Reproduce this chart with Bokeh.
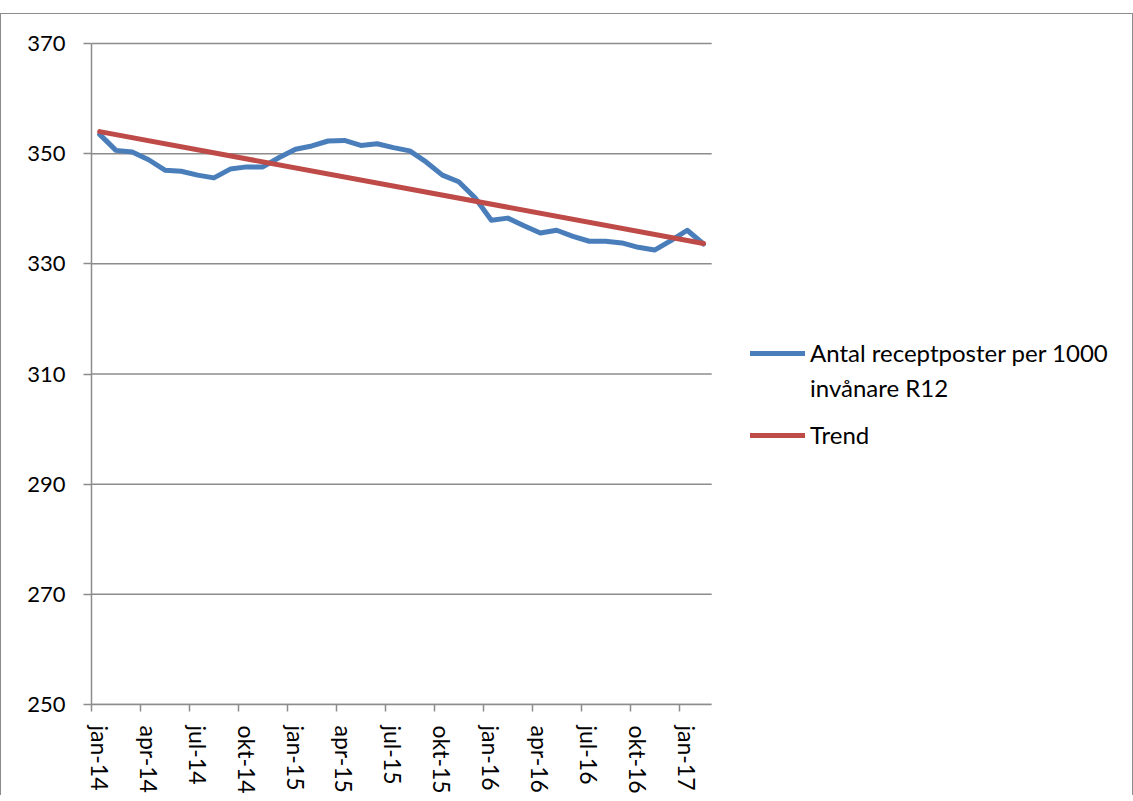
from bokeh.plotting import figure
from bokeh.models import FixedTicker, Legend, LegendItem, Range1d, Spacer
from bokeh.layouts import column
from bokeh.embed import file_html
from bokeh.resources import INLINE

# ---- data -------------------------------------------------------------
months = ["jan-14", "feb-14", "mar-14", "apr-14", "maj-14", "jun-14", "jul-14", "aug-14",
          "sep-14", "okt-14", "nov-14", "dec-14", "jan-15", "feb-15", "mar-15", "apr-15",
          "maj-15", "jun-15", "jul-15", "aug-15", "sep-15", "okt-15", "nov-15", "dec-15",
          "jan-16", "feb-16", "mar-16", "apr-16", "maj-16", "jun-16", "jul-16", "aug-16",
          "sep-16", "okt-16", "nov-16", "dec-16", "jan-17", "feb-17"]
receptposter = [353.5, 350.6, 350.3, 348.9, 347.0, 346.8, 346.1, 345.6,
                347.2, 347.6, 347.6, 349.3, 350.8, 351.4, 352.3, 352.4,
                351.5, 351.8, 351.1, 350.5, 348.5, 346.1, 344.9, 342.0,
                337.9, 338.3, 336.9, 335.6, 336.1, 335.0, 334.1, 334.1,
                333.8, 333.0, 332.5, 334.2, 336.1, 333.6]
trend_idx = [0, 37]
trend_vals = [354.0, 333.7]
y_ticks = [250, 270, 290, 310, 330, 350, 370]
series_line1 = "Antal receptposter per 1000"
series_line2 = "invånare R12"
trend_name = "Trend"

FONT = "Lato"
GRAY = "#8c8c8c"
BLUE = "#4a7ebb"
RED = "#be4b48"

# ---- layout (pixels) --------------------------------------------------
AX_W = 619          # width of the data area (38 categories)
AX_H = 660          # height of the data area (250..370)
LEFT = 90
TOP = 26
BOTTOM = 81
FRAME_W = 1131 - LEFT   # frame runs on to the right edge (legend lives there)
TOP_PAD_PX = 3
FRAME_H = AX_H + TOP_PAD_PX

n = len(months)
x_idx = list(range(n))
label_idx = x_idx[::3]
x0, x1 = -0.5, n - 0.5
x_end = x0 + FRAME_W * (x1 - x0) / AX_W
y0, y1 = y_ticks[0], y_ticks[-1]
y_end = y1 + TOP_PAD_PX * (y1 - y0) / AX_H

p = figure(frame_width=FRAME_W, frame_height=FRAME_H, output_backend="svg", toolbar_location=None,
           x_range=Range1d(x0, x_end), y_range=Range1d(y0, y_end),
           min_border_left=LEFT, min_border_top=TOP, min_border_right=0, min_border_bottom=BOTTOM)
p.styles = {"border-top": "1px solid #8c8c8c", "border-left": "1px solid #8c8c8c",
            "border-right": "1px solid #8c8c8c"}
p.outline_line_color = None
p.background_fill_color = "white"
p.border_fill_color = "white"

# horizontal grid lines, limited to the data area
p.segment(x0=[x0] * len(y_ticks), x1=[x1] * len(y_ticks), y0=y_ticks, y1=y_ticks,
          line_color=GRAY, line_width=1.5)

r1 = p.line(x_idx, receptposter, line_color=BLUE, line_width=5, line_join="round", line_cap="round")
r2 = p.line(trend_idx, trend_vals, line_color=RED, line_width=5, line_cap="round")
r_blank = p.line([], [], line_alpha=0)

# x axis
p.xaxis.bounds = (x0, x1)
p.xaxis.ticker = FixedTicker(ticks=label_idx, minor_ticks=[i - 0.5 for i in label_idx])
p.xaxis.major_label_overrides = {i: months[i] for i in label_idx}
p.xaxis.major_label_orientation = "vertical"
p.xaxis.major_tick_out = 0
p.xaxis.major_tick_in = 0
p.xaxis.minor_tick_out = 7
p.xaxis.minor_tick_in = 0
p.xaxis.minor_tick_line_color = GRAY
p.xaxis.minor_tick_line_width = 1.5
p.xaxis.axis_line_color = GRAY
p.xaxis.axis_line_width = 1.5
p.xaxis.major_label_standoff = 14
p.xaxis.major_label_text_font = FONT
p.xaxis.major_label_text_font_size = "23px"
p.xaxis.major_label_text_color = "black"
p.xgrid.grid_line_color = None
p.ygrid.grid_line_color = None

# y axis
p.yaxis.bounds = (y0, y1)
p.yaxis.ticker = FixedTicker(ticks=y_ticks)
p.yaxis.major_tick_out = 8
p.yaxis.major_tick_in = 0
p.yaxis.minor_tick_line_color = None
p.yaxis.major_tick_line_color = GRAY
p.yaxis.major_tick_line_width = 1.5
p.yaxis.axis_line_color = GRAY
p.yaxis.axis_line_width = 1.5
p.yaxis.major_label_standoff = 18
p.yaxis.major_label_text_font = FONT
p.yaxis.major_label_text_font_size = "22px"
p.yaxis.major_label_text_color = "black"


def style_legend(lg):
    lg.glyph_width = 55
    lg.glyph_height = 28
    lg.label_height = 28
    lg.label_standoff = 5
    lg.spacing = 6
    lg.padding = 0
    lg.margin = 0
    lg.label_text_font = FONT
    lg.label_text_font_size = "24px"
    lg.label_text_color = "black"
    lg.border_line_color = None
    lg.background_fill_alpha = 0


leg_a = Legend(items=[LegendItem(label=series_line1, renderers=[r1]),
                      LegendItem(label=series_line2, renderers=[r_blank])],
               location=(AX_W + 40, 302))
leg_b = Legend(items=[LegendItem(label=trend_name, renderers=[r2])],
               location=(AX_W + 40, 255))
style_legend(leg_a)
style_legend(leg_b)
p.add_layout(leg_a, "center")
p.add_layout(leg_b, "center")

layout = column(Spacer(height=13), p, spacing=0)
open("out.html", "w").write(file_html(layout, INLINE))
